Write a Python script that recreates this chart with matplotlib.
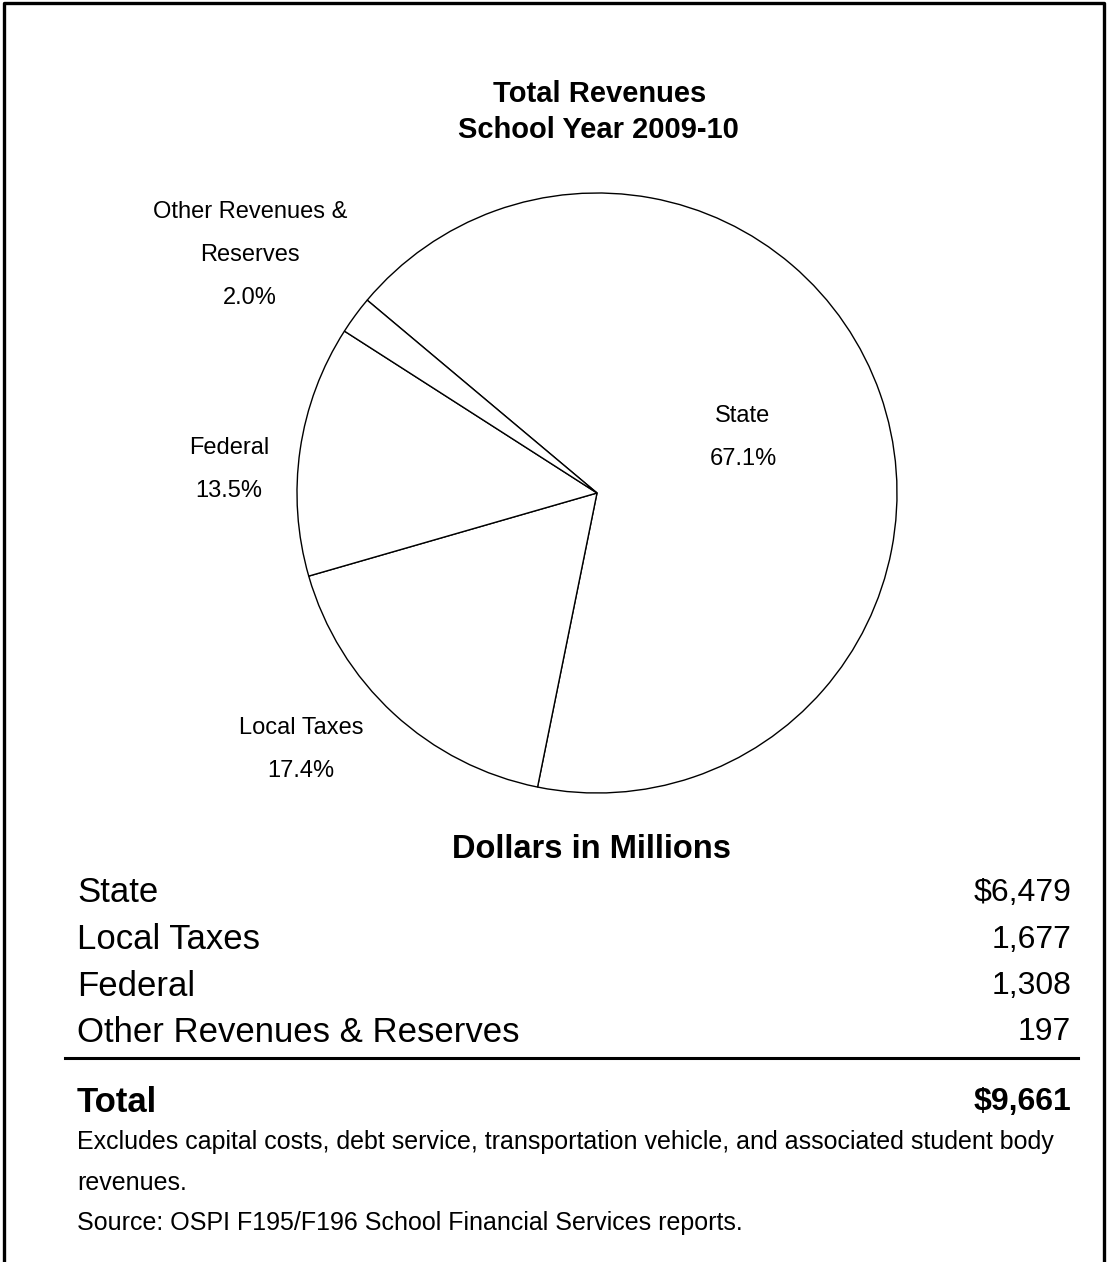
import matplotlib.pyplot as plt
from matplotlib.lines import Line2D

plt.rcParams['font.family'] = ['Liberation Sans', 'DejaVu Sans']

# revenue sources, millions of dollars
sources = ['State', 'Local Taxes', 'Federal', 'Other Revenues & Reserves']
amounts = [6479, 1677, 1308, 197]
pie_labels = ['State', 'Local Taxes', 'Federal', 'Other Revenues &\nReserves']
amount_text = ['$6,479', '1,677', '1,308', '197']
total_text = '$9,661'

W, H = 1107, 1262
fig = plt.figure(figsize=(W / 100, H / 100), dpi=100)


def px(x, y):
    # pixel position (from top-left) -> figure fraction
    return x / W, 1 - y / H


# pie, centre (597, 493), radius 300 px
cx, cy, r = 597, 493, 300
pad = 1.03
ax = fig.add_axes([(cx - r * pad) / W, 1 - (cy + r * pad) / H,
                   2 * r * pad / W, 2 * r * pad / H])
ax.pie(amounts, startangle=140, counterclock=False,
       colors=['white'] * len(amounts),
       wedgeprops=dict(edgecolor='black', linewidth=1.0))
ax.set_xlim(-pad, pad)
ax.set_ylim(-pad, pad)
ax.set_aspect('auto')
ax.axis('off')

total = sum(amounts)
pct = ['%.1f%%' % (100 * a / total) for a in amounts]

# slice labels
label_pos = [(743, 416), (301, 728), (229, 448), (250, 212)]
for lab, p, (x, y) in zip(pie_labels, pct, label_pos):
    lines = lab.split('\n') + [p]
    for i, t in enumerate(lines):
        fig.text(*px(x, y + i * 43), t, ha='center', va='center', fontsize=17)

# title
fig.text(*px(600, 94), 'Total Revenues', ha='center', va='center',
         fontsize=21, fontweight='bold')
fig.text(*px(598, 130), 'School Year 2009-10', ha='center', va='center',
         fontsize=21, fontweight='bold')

# table of dollars
fig.text(*px(592, 849), 'Dollars in Millions', ha='center', va='center',
         fontsize=23.5, fontweight='bold')
for i, (s, v) in enumerate(zip(sources, amount_text)):
    y = 893 + i * 46.5
    fig.text(*px(77, y), s, ha='left', va='center', fontsize=25)
    fig.text(*px(1071, y), v, ha='right', va='center', fontsize=23)

fig.add_artist(Line2D([65 / W, 1078 / W], [1 - 1058 / H] * 2,
                      color='black', linewidth=2.2))
fig.text(*px(77, 1102), 'Total', ha='left', va='center',
         fontsize=25, fontweight='bold')
fig.text(*px(1071, 1102), total_text, ha='right', va='center',
         fontsize=23, fontweight='bold')

# notes
fig.text(*px(77, 1142), 'Excludes capital costs, debt service, transportation vehicle, '
         'and associated student body', ha='left', va='center', fontsize=18)
fig.text(*px(77, 1183), 'revenues.', ha='left', va='center', fontsize=18)
fig.text(*px(77, 1223), 'Source: OSPI F195/F196 School Financial Services reports.',
         ha='left', va='center', fontsize=18)

# frame around the page (open at the bottom)
fig.add_artist(Line2D([4 / W, 4 / W, 1104 / W, 1104 / W],
                      [0, 1 - 3 / H, 1 - 3 / H, 0],
                      color='black', linewidth=2.4))

fig.savefig('out.png', dpi=100)
